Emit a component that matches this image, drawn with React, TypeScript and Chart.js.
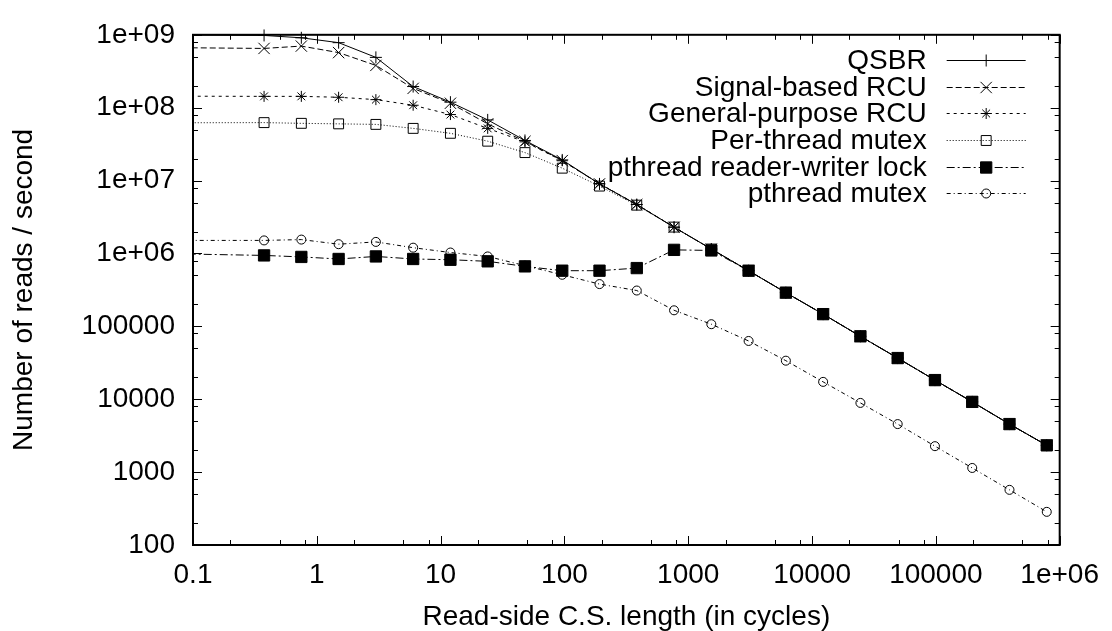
import React, { useEffect, useRef } from 'react';
import { Chart, registerables, PointElement } from 'chart.js';

Chart.register(...registerables);

// Read-side critical-section length (cycles); first entry lies left of the visible range
const csLength = [0.05, 0.375, 0.75, 1.5, 3, 6, 12, 24, 48, 96, 192, 384, 768, 1536, 3072, 6144, 12288, 24576, 49152, 98304, 196608, 393216, 786432];

const qsbr = [1.0e9, 9.8e8, 9.1e8, 7.8e8, 4.9e8, 1.95e8, 1.19e8, 6.8e7, 3.55e7, 1.92e7, 9.0e6, 4.69e6, 2.29e6, 1.15e6, 5.8e5, 2.9e5, 1.47e5, 7.3e4, 3.67e4, 1.83e4, 9.2e3, 4.56e3, 2.33e3];
const signalRcu = [6.7e8, 6.5e8, 7.0e8, 5.7e8, 3.8e8, 1.84e8, 1.15e8, 6.0e7, 3.45e7, 1.88e7, 9.0e6, 4.69e6, 2.29e6, 1.15e6, 5.8e5, 2.9e5, 1.47e5, 7.3e4, 3.67e4, 1.83e4, 9.2e3, 4.56e3, 2.33e3];
const generalRcu = [1.44e8, 1.43e8, 1.43e8, 1.39e8, 1.29e8, 1.08e8, 8.05e7, 5.2e7, 3.4e7, 1.87e7, 9.1e6, 4.7e6, 2.3e6, 1.15e6, 5.8e5, 2.9e5, 1.47e5, 7.3e4, 3.67e4, 1.83e4, 9.2e3, 4.56e3, 2.33e3];
const perThreadMutex = [6.2e7, 6.24e7, 6.1e7, 6.0e7, 5.9e7, 5.2e7, 4.45e7, 3.47e7, 2.42e7, 1.48e7, 8.4e6, 4.6e6, 2.3e6, 1.15e6, 5.8e5, 2.9e5, 1.47e5, 7.3e4, 3.67e4, 1.83e4, 9.2e3, 4.56e3, 2.33e3];
const rwLock = [1.0e6, 9.4e5, 8.96e5, 8.4e5, 9.1e5, 8.4e5, 8.2e5, 7.8e5, 6.65e5, 5.8e5, 5.8e5, 6.3e5, 1.12e6, 1.1e6, 5.8e5, 2.9e5, 1.47e5, 7.3e4, 3.67e4, 1.83e4, 9.2e3, 4.56e3, 2.33e3];
const pthreadMutex = [1.51e6, 1.51e6, 1.55e6, 1.34e6, 1.44e6, 1.2e6, 1.03e6, 9.1e5, 6.8e5, 5.1e5, 3.8e5, 3.1e5, 1.66e5, 1.07e5, 6.3e4, 3.38e4, 1.73e4, 8.9e3, 4.56e3, 2.27e3, 1.14e3, 571, 285];

const seriesNames = ['QSBR', 'Signal-based RCU', 'General-purpose RCU', 'Per-thread mutex', 'pthread reader-writer lock', 'pthread mutex'];

const xTickValues = [0.1, 1, 10, 100, 1000, 10000, 100000, 1000000];
const xTickLabels = ['0.1', '1', '10', '100', '1000', '10000', '100000', '1e+06'];
const yTickValues = [100, 1000, 10000, 100000, 1e6, 1e7, 1e8, 1e9];
const yTickLabels = ['100', '1000', '10000', '100000', '1e+06', '1e+07', '1e+08', '1e+09'];
const minorMultipliers = [2, 5, 8];

const xTitle = 'Read-side C.S. length (in cycles)';
const yTitle = 'Number of reads / second';

const FONT = '"Liberation Sans", Arial, Helvetica, sans-serif';
const FONT_SIZE = 28;

const gnuplotFrame = {
  id: 'gnuplotFrame',
  afterDatasetsDraw(chart: any) {
    const { ctx, chartArea } = chart;
    const { left, right, top, bottom } = chartArea;
    const xs = chart.scales.x;
    const ys = chart.scales.y;
    ctx.save();
    ctx.strokeStyle = '#000';
    ctx.setLineDash([]);
    ctx.lineWidth = 1;
    const drawX = (v: number, len: number) => {
      const p = Math.round(xs.getPixelForValue(v)) + 0.5;
      if (p < left - 1 || p > right + 1) return;
      ctx.beginPath();
      ctx.moveTo(p, bottom);
      ctx.lineTo(p, bottom - len);
      ctx.moveTo(p, top);
      ctx.lineTo(p, top + len);
      ctx.stroke();
    };
    const drawY = (v: number, len: number) => {
      const p = Math.round(ys.getPixelForValue(v)) + 0.5;
      if (p < top - 1 || p > bottom + 1) return;
      ctx.beginPath();
      ctx.moveTo(left, p);
      ctx.lineTo(left + len, p);
      ctx.moveTo(right, p);
      ctx.lineTo(right - len, p);
      ctx.stroke();
    };
    xTickValues.forEach((v) => {
      drawX(v, 9);
      minorMultipliers.forEach((m) => { if (v * m < 1000000) drawX(v * m, 5); });
    });
    yTickValues.forEach((v) => {
      drawY(v, 9);
      minorMultipliers.forEach((m) => { if (v * m < 1e9) drawY(v * m, 5); });
    });
    ctx.lineWidth = 2;
    ctx.strokeRect(left, top, right - left, bottom - top);

    // gnuplot-style key: right-aligned label, then line sample with marker
    const textRight = right - 133;
    const sampleStart = right - 113;
    const sampleEnd = right - 34;
    const rowTop = top + 25;
    const rowStep = 26.7;
    ctx.font = `${FONT_SIZE}px ${FONT}`;
    ctx.textAlign = 'right';
    ctx.textBaseline = 'middle';
    ctx.fillStyle = '#000';
    chart.data.datasets.forEach((ds: any, i: number) => {
      const y = Math.round(rowTop + rowStep * i) + 0.5;
      ctx.fillText(seriesNames[i], textRight, y + 1);
      ctx.save();
      ctx.lineWidth = ds.borderWidth;
      ctx.strokeStyle = ds.borderColor;
      ctx.setLineDash(ds.borderDash || []);
      ctx.beginPath();
      ctx.moveTo(sampleStart, y);
      ctx.lineTo(sampleEnd, y);
      ctx.stroke();
      ctx.restore();
      const meta = chart.getDatasetMeta(i);
      const opts = meta.data[1] && meta.data[1].options;
      if (opts) {
        const el: any = new (PointElement as any)({ x: (sampleStart + sampleEnd) / 2, y, options: opts, skip: false });
        ctx.save();
        ctx.setLineDash([]);
        el.draw(ctx);
        ctx.restore();
      }
    });
    ctx.restore();
  },
};

export default function App() {
  const canvasRef = useRef<HTMLCanvasElement | null>(null);

  useEffect(() => {
    document.body.style.margin = '0';
    const canvas = canvasRef.current;
    if (!canvas) return;

    const mk = (label: string, values: number[], dash: number[], style: string, radius: number, fill: string) => ({
      label,
      data: csLength.map((x, i) => ({ x, y: values[i] })),
      borderColor: '#000',
      borderWidth: 1,
      borderDash: dash,
      pointStyle: style,
      pointRadius: radius,
      pointBorderWidth: 1,
      pointBorderColor: '#000',
      pointBackgroundColor: fill,
      pointHoverRadius: radius,
      fill: false,
      tension: 0,
      clip: { left: 0, top: 10, right: 10, bottom: 0 },
    });

    const chart = new Chart(canvas, {
      type: 'line',
      data: {
        datasets: [
          mk(seriesNames[0], qsbr, [], 'cross', 6, 'rgba(0,0,0,0)'),
          mk(seriesNames[1], signalRcu, [6, 3], 'crossRot', 8, 'rgba(0,0,0,0)'),
          mk(seriesNames[2], generalRcu, [3, 4], 'star', 5.5, 'rgba(0,0,0,0)'),
          mk(seriesNames[3], perThreadMutex, [1, 2], 'rect', 7, 'rgba(0,0,0,0)'),
          mk(seriesNames[4], rwLock, [8, 3, 2, 3], 'rect', 8, '#000'),
          mk(seriesNames[5], pthreadMutex, [4, 3, 1, 3], 'circle', 4.5, 'rgba(0,0,0,0)'),
        ] as any,
      },
      options: {
        responsive: false,
        animation: false,
        events: [],
        layout: { padding: { top: 21, right: 46, left: 0, bottom: 0 } },
        plugins: {
          legend: { display: false },
          tooltip: { enabled: false },
        },
        scales: {
          x: {
            type: 'logarithmic',
            min: 0.1,
            max: 1000000,
            grid: { display: false, drawTicks: false },
            border: { display: false },
            afterBuildTicks: (scale: any) => { scale.ticks = xTickValues.map((v) => ({ value: v })); },
            afterFit: (scale: any) => { scale.height = 86; },
            ticks: {
              autoSkip: false,
              maxRotation: 0,
              padding: 13,
              color: '#000',
              font: { family: FONT, size: FONT_SIZE },
              callback: (v: any) => { const i = xTickValues.indexOf(Number(v)); return i >= 0 ? xTickLabels[i] : ''; },
            },
            title: {
              display: true,
              text: xTitle,
              color: '#000',
              font: { family: FONT, size: FONT_SIZE, lineHeight: 1.0 },
              padding: { top: 0, bottom: 0 },
            },
          },
          y: {
            type: 'logarithmic',
            min: 100,
            max: 1e9,
            grid: { display: false, drawTicks: false },
            border: { display: false },
            afterBuildTicks: (scale: any) => { scale.ticks = yTickValues.map((v) => ({ value: v })); },
            afterFit: (scale: any) => { scale.width = 193; },
            ticks: {
              autoSkip: false,
              padding: 18,
              color: '#000',
              font: { family: FONT, size: FONT_SIZE },
              callback: (v: any) => { const i = yTickValues.indexOf(Number(v)); return i >= 0 ? yTickLabels[i] : ''; },
            },
            title: {
              display: true,
              text: yTitle,
              color: '#000',
              font: { family: FONT, size: FONT_SIZE, lineHeight: 1.0 },
              padding: { top: 10, bottom: 0 },
            },
          },
        },
      } as any,
      plugins: [gnuplotFrame],
    });

    return () => chart.destroy();
  }, []);

  return <canvas ref={canvasRef} width={1112} height={631} style={{ display: 'block' }} />;
}
